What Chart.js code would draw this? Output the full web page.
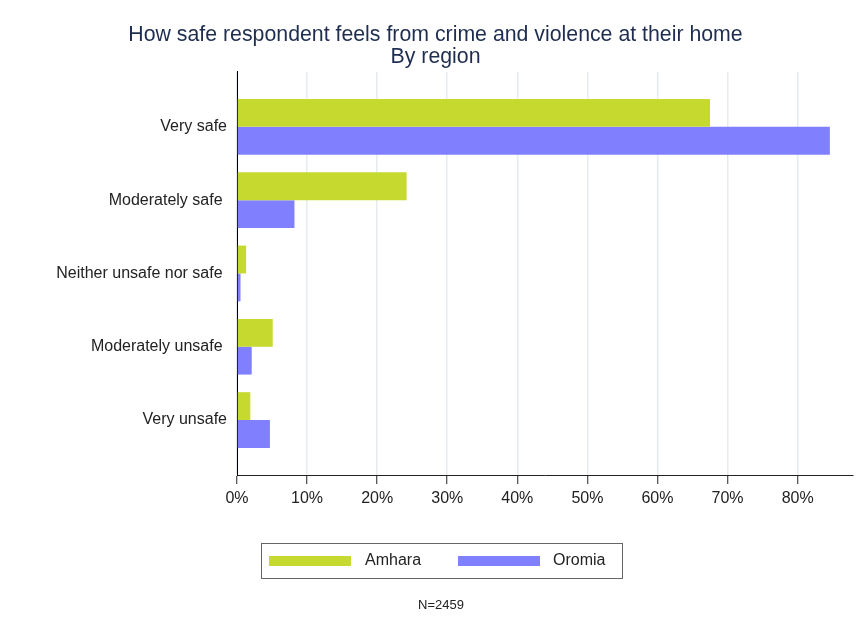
<!DOCTYPE html>
<html>
<head>
  <title>Safety at home by region</title>
  <script src="https://cdn.jsdelivr.net/npm/chart.js"></script>
  <style>
    html, body { margin: 0; padding: 0; background: #fff; }
    #wrap { width: 862px; height: 624px; }
  </style>
</head>
<body>
  <div id="wrap"><canvas id="chart"></canvas></div>

  <script>
    // categories (top to bottom) and percentages per region
    const categories = ["Very safe", "Moderately safe ", "Neither unsafe nor safe ", "Moderately unsafe ", "Very unsafe"];
    const amhara = [67.5, 24.2, 1.3, 5.1, 1.9];
    const oromia = [84.6, 8.2, 0.5, 2.1, 4.7];
    const xTicks = [0, 10, 20, 30, 40, 50, 60, 70, 80];
    const seriesNames = ["Amhara", "Oromia"];
    const sampleNote = "N=2459";

    Chart.defaults.font.family = "'Liberation Sans', Arial, sans-serif";
    Chart.defaults.color = "#222";

    const toPoints = vals => vals.map((v, i) => ({ x: v, y: i }));

    // legend box + N note, drawn under the axis
    const boxLegend = {
      id: 'boxLegend',
      afterDraw(chart) {
        const c = chart.ctx;
        c.save();
        c.strokeStyle = '#666';
        c.lineWidth = 1;
        c.strokeRect(261.5, 543.5, 361, 35);
        const swatchX = [269, 458];
        const textX = [365, 553];
        c.font = "16px 'Liberation Sans', Arial, sans-serif";
        c.textBaseline = 'middle';
        chart.data.datasets.forEach((ds, i) => {
          c.fillStyle = ds.backgroundColor;
          c.fillRect(swatchX[i], 556, 82, 10);
          c.fillStyle = '#222';
          c.fillText(ds.label, textX[i], 561);
        });
        c.font = "13px 'Liberation Sans', Arial, sans-serif";
        c.textAlign = 'center';
        c.fillText(sampleNote, 441, 605);
        c.restore();
      }
    };

    new Chart(document.getElementById('chart'), {
      type: 'bar',
      data: {
        datasets: [
          { label: seriesNames[0], data: toPoints(amhara), backgroundColor: '#c6d92f', borderWidth: 0 },
          { label: seriesNames[1], data: toPoints(oromia), backgroundColor: '#8080ff', borderWidth: 0 }
        ]
      },
      options: {
        indexAxis: 'y',
        responsive: true,
        maintainAspectRatio: false,
        animation: false,
        categoryPercentage: 0.76,
        barPercentage: 1.0,
        layout: { padding: { left: 18, right: 9, top: 0, bottom: 117 } },
        plugins: {
          legend: { display: false },
          tooltip: { enabled: false },
          title: {
            display: true,
            text: ["How safe respondent feels from crime and violence at their home", "By region"],
            color: '#1e2d50',
            font: { size: 21.3, weight: 'normal', lineHeight: 1.03 },
            padding: { top: 24, bottom: 4 }
          }
        },
        scales: {
          x: {
            type: 'linear',
            min: 0,
            max: 87.9,
            afterBuildTicks: s => { s.ticks = xTicks.map(v => ({ value: v })); },
            afterFit: s => { s.height = 32; },
            ticks: {
              callback: v => v + '%',
              font: { size: 16 },
              padding: 5,
              maxRotation: 0
            },
            grid: { color: '#e4ecf1', lineWidth: 1.5, tickLength: 9, tickColor: '#222', tickWidth: 1 },
            border: { display: true, color: '#222', width: 1 }
          },
          y: {
            type: 'linear',
            reverse: true,
            offset: false,
            min: -0.75,
            max: 4.75,
            afterBuildTicks: s => { s.ticks = categories.map((c, i) => ({ value: i })); },
            afterFit: s => { s.width = 219; },
            ticks: {
              callback: v => categories[v],
              font: { size: 16 },
              padding: 10
            },
            grid: { display: true, offset: false, drawOnChartArea: false, drawTicks: false },
            border: { display: true, color: '#000', width: 1 }
          }
        }
      },
      plugins: [boxLegend]
    });
  </script>
</body>
</html>
